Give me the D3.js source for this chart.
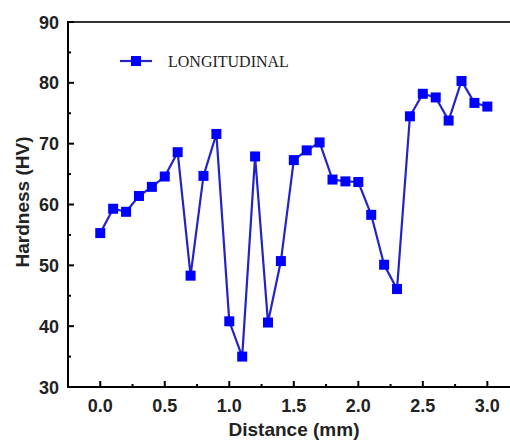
<!DOCTYPE html>
<html><head><meta charset="utf-8">
<script src="https://cdn.jsdelivr.net/npm/d3@7"></script>
<style>html,body{margin:0;padding:0;background:#fff;}svg{display:block;}</style>
</head><body>
<script>
const distance = [0.0,0.1,0.2,0.3,0.4,0.5,0.6,0.7,0.8,0.9,1.0,1.1,1.2,1.3,1.4,1.5,1.6,1.7,1.8,1.9,2.0,2.1,2.2,2.3,2.4,2.5,2.6,2.7,2.8,2.9,3.0];
const hardness = [55.3,59.3,58.8,61.4,62.9,64.6,68.6,48.3,64.7,71.6,40.8,35.0,67.9,40.6,50.7,67.3,68.9,70.2,64.1,63.8,63.7,58.3,50.1,46.1,74.5,78.2,77.6,73.8,80.3,76.7,76.1];
const seriesName = "LONGITUDINAL";
const xTicks = [0.0,0.5,1.0,1.5,2.0,2.5,3.0];
const xMinor = [0.25,0.75,1.25,1.75,2.25,2.75];
const yTicks = [30,40,50,60,70,80,90];
const yMinor = [35,45,55,65,75,85];

const W = 510, H = 441;
const svg = d3.select("body").append("svg").attr("width", W).attr("height", H);
const x = d3.scaleLinear().domain([-0.25, 3.25]).range([68, 519.6]);
const y = d3.scaleLinear().domain([30, 90]).range([387, 22]);
const data = distance.map((d,i)=>({x:d, y:hardness[i]}));

const lineCol = "#2323c8", markCol = "#0000ff";

// frame: top line
svg.append("line").attr("x1", 68).attr("x2", W).attr("y1", y(90)).attr("y2", y(90))
  .attr("stroke", "#333").attr("stroke-width", 2);

// bottom axis
const gx = svg.append("g").attr("transform", `translate(0,${y(30)})`);
gx.append("line").attr("x1", 67).attr("x2", W).attr("stroke", "#000").attr("stroke-width", 2);
gx.selectAll(".maj").data(xTicks).join("line").attr("x1", d=>x(d)).attr("x2", d=>x(d))
  .attr("y1", 0).attr("y2", -6).attr("stroke", "#000").attr("stroke-width", 2);
gx.selectAll(".min").data(xMinor).join("line").attr("x1", d=>x(d)).attr("x2", d=>x(d))
  .attr("y1", 0).attr("y2", -3).attr("stroke", "#000").attr("stroke-width", 2);
gx.selectAll("text").data(xTicks).join("text").attr("x", d=>x(d)).attr("y", 25)
  .attr("text-anchor", "middle").attr("font-family", "Liberation Sans, Arial, sans-serif")
  .attr("font-weight", "bold").attr("font-size", 18).attr("fill", "#222").text(d=>d.toFixed(1));

// left axis
const gy = svg.append("g").attr("transform", `translate(68,0)`);
gy.append("line").attr("y1", y(30)+1).attr("y2", y(90)-1).attr("stroke", "#000").attr("stroke-width", 2);
gy.selectAll(".maj").data(yTicks).join("line").attr("y1", d=>y(d)).attr("y2", d=>y(d))
  .attr("x1", 0).attr("x2", 6).attr("stroke", "#000").attr("stroke-width", 2);
gy.selectAll(".min").data(yMinor).join("line").attr("y1", d=>y(d)).attr("y2", d=>y(d))
  .attr("x1", 0).attr("x2", 3).attr("stroke", "#000").attr("stroke-width", 2);
gy.selectAll("text").data(yTicks).join("text").attr("x", -9).attr("y", d=>y(d)+6.5)
  .attr("text-anchor", "end").attr("font-family", "Liberation Sans, Arial, sans-serif")
  .attr("font-weight", "bold").attr("font-size", 18).attr("fill", "#222").text(d=>d);

// axis titles
svg.append("text").attr("x", 294).attr("y", 436).attr("text-anchor", "middle")
  .attr("font-family", "Liberation Sans, Arial, sans-serif").attr("font-weight", "bold")
  .attr("font-size", 19).attr("fill", "#222").text("Distance (mm)");
svg.append("text").attr("transform", "translate(29,202) rotate(-90)").attr("text-anchor", "middle")
  .attr("font-family", "Liberation Sans, Arial, sans-serif").attr("font-weight", "bold")
  .attr("font-size", 19).attr("fill", "#222").text("Hardness (HV)");

// series line
svg.append("path").datum(data).attr("fill", "none").attr("stroke", lineCol).attr("stroke-width", 2.2)
  .attr("d", d3.line().x(d=>x(d.x)).y(d=>y(d.y)));
const ms = 10;
svg.selectAll(".pt").data(data).join("rect").attr("class","pt")
  .attr("x", d=>x(d.x)-ms/2).attr("y", d=>y(d.y)-ms/2).attr("width", ms).attr("height", ms)
  .attr("fill", markCol);

// legend
const lg = svg.append("g");
lg.append("line").attr("x1", 120).attr("x2", 152).attr("y1", 61).attr("y2", 61).attr("stroke", lineCol).attr("stroke-width", 2.2);
lg.append("rect").attr("x", 136-5).attr("y", 61-5).attr("width", 10).attr("height", 10).attr("fill", markCol);
lg.append("text").attr("x", 168).attr("y", 66.5).attr("font-family", "Liberation Serif, Times New Roman, serif")
  .attr("font-size", 16).attr("fill", "#222").text(seriesName);
</script>
</body></html>
